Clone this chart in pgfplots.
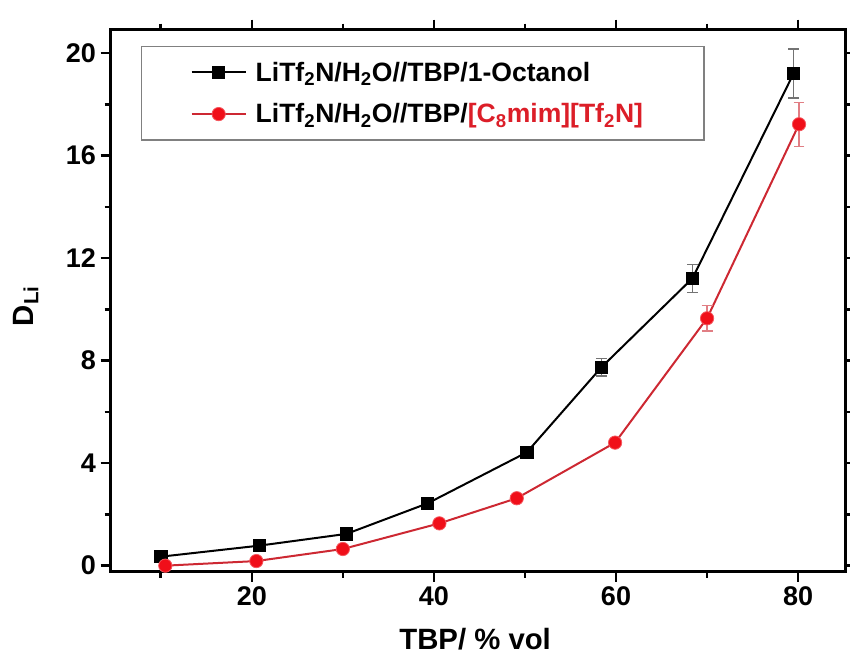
\documentclass[border=0pt]{standalone}
\usepackage{pgfplots}
\pgfplotsset{compat=1.18}
\usepackage{pgfplotstable}
\usepackage{fontspec}
\setmainfont{Liberation Sans}
\definecolor{rline}{RGB}{205,40,50}
\definecolor{rmark}{RGB}{240,15,25}
\definecolor{rtext}{RGB}{220,30,40}

\pgfplotstableread{
x y e
10.0 0.35 0
20.8 0.78 0
30.4 1.24 0
39.3 2.43 0
50.2 4.42 0
58.4 7.74 0.34
68.4 11.21 0.55
79.5 19.20 0.96
}\octanol

\pgfplotstableread{
x y e
10.5 0.00 0
20.5 0.18 0
30.0 0.65 0
40.6 1.65 0
49.1 2.63 0
59.9 4.80 0
70.0 9.65 0.49
80.1 17.22 0.86
}\ionic

\begin{document}
\begin{tikzpicture}
\useasboundingbox (0,0) rectangle (637.5pt,492.75pt);
\begin{axis}[
  at={(83pt,64pt)}, anchor=south west,
  scale only axis, width=551.1pt, height=406.5pt,
  xmin=4.5, xmax=85.2, ymin=-0.234, ymax=20.91,
  xtick={20,40,60,80}, minor xtick={10,30,50,70},
  ytick={0,4,8,12,16,20}, minor ytick={2,6,10,14,18},
  tick align=outside,
  major tick length=7.5pt, minor tick length=4.5pt,
  every tick/.style={black, line width=1.9pt},
  axis line style={line width=2.25pt},
  /pgf/number format/assume math mode=true,
  ticklabel style={font=\bfseries\fontsize{20.25}{24}\selectfont},
  xlabel={TBP/ \% vol}, ylabel={D\textsubscript{Li}},
  label style={font=\bfseries\fontsize{22}{26}\selectfont},
  xlabel style={at={(axis description cs:0.496,-0.1445)}, anchor=base},
  ylabel style={at={(axis description cs:-0.1057,0.49)}, anchor=base},
  clip=false,
  legend cell align=left,
  legend style={
    at={(axis description cs:0.0412,0.970)}, anchor=north west,
    draw=black!50, line width=1.1pt,
    inner xsep=36.75pt, inner ysep=10pt,
    font=\bfseries\fontsize{19.9}{24}\selectfont,
    /tikz/row sep=12.45pt, /tikz/column sep=6.75pt,
    nodes={inner sep=0pt, text height=16pt, text depth=2.75pt}
  },
  legend image code/.code={
    \draw[mark repeat=2, mark phase=2, #1] plot coordinates {(0pt,0pt) (20.25pt,0pt) (40.5pt,0pt)};
  },
]
\addplot[black, line width=1.5pt, mark=square*, mark size=4.6pt,
  mark options={solid, fill=black, draw=black, line width=0.5pt},
  error bars/.cd, y dir=both, y explicit,
  error bar style={black!55, line width=1pt},
  error mark options={black!55, line width=1pt, mark size=4.1pt, rotate=90}]
  table[x=x, y=y, y error=e] {\octanol};
\addlegendentry{LiTf\textsubscript{2}N/H\textsubscript{2}O//TBP/1-Octanol}
\addplot[rline, line width=1.5pt, mark=*, mark size=5pt,
  mark options={solid, fill=rmark, draw=rmark!70!white, line width=0.6pt},
  error bars/.cd, y dir=both, y explicit,
  error bar style={rline!60!white, line width=1pt},
  error mark options={rline!60!white, line width=1pt, mark size=4.1pt, rotate=90}]
  table[x=x, y=y, y error=e] {\ionic};
\addlegendentry{LiTf\textsubscript{2}N/H\textsubscript{2}O//TBP/\textcolor{rtext}{[C\textsubscript{8}mim][Tf\textsubscript{2}N]}\hspace*{9pt}}
\end{axis}
\end{tikzpicture}
\end{document}
